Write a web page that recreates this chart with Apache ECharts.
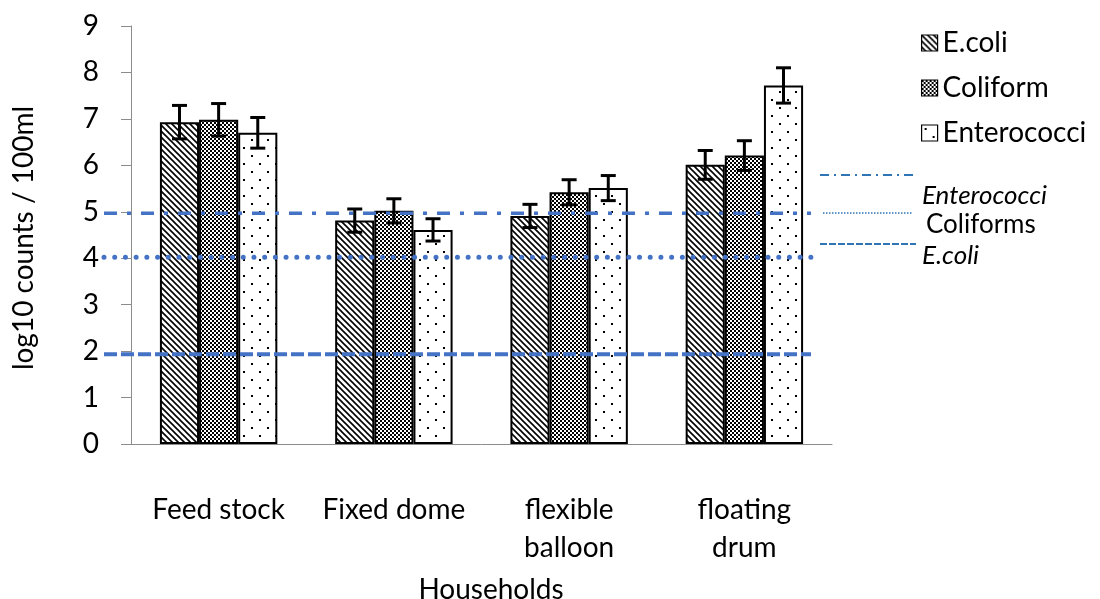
<!DOCTYPE html>
<html><head><meta charset="utf-8">
<script src="https://cdn.jsdelivr.net/npm/echarts@6/dist/echarts.min.js"></script>
<style>html,body{margin:0;padding:0;background:#fff}#c{width:1100px;height:599px}</style>
</head><body><div id="c"></div>
<script>
// ---- data ----
const categories = ['Feed stock', 'Fixed dome', 'flexible\nballoon', 'floating\ndrum'];
const seriesNames = ['E.coli', 'Coliform', 'Enterococci'];
const ecoli = [6.93, 4.81, 4.91, 6.01];
const coliform = [6.98, 5.02, 5.42, 6.21];
const enterococci = [6.70, 4.61, 5.51, 7.72];
const ecoliErr = [0.36, 0.25, 0.25, 0.31];
const coliformErr = [0.35, 0.26, 0.27, 0.32];
const enterococciErr = [0.33, 0.24, 0.27, 0.38];
const refNames = ['Enterococci', 'Coliforms', 'E.coli'];
const refValues = [4.97, 4.02, 1.93];
const yMin = 0, yMax = 9, yStep = 1;
const xTitle = 'Households';
const yTitle = 'log10 counts / 100ml';

// ---- patterns ----
function tile(w, h, draw) {
  const c = document.createElement('canvas'); c.width = w; c.height = h;
  const g = c.getContext('2d'); g.fillStyle = '#fff'; g.fillRect(0, 0, w, h); draw(g);
  return c;
}
const diagPat = tile(6, 6, g => {
  g.strokeStyle = '#000'; g.lineWidth = 1.6; g.beginPath();
  g.moveTo(-2, -2); g.lineTo(8, 8);
  g.moveTo(-2, 4); g.lineTo(2, 8);
  g.moveTo(4, -2); g.lineTo(8, 2);
  g.stroke();
});
const checkPat = tile(4, 4, g => {
  g.fillStyle = '#000'; g.fillRect(0, 0, 2, 2); g.fillRect(2, 2, 2, 2);
});
const dotPat = tile(16, 16, g => {
  g.fillStyle = '#000'; g.fillRect(3, 3, 2, 2); g.fillRect(11, 11, 2, 2);
});
const patterns = [diagPat, checkPat, dotPat];
const values = [ecoli, coliform, enterococci];
const errs = [ecoliErr, coliformErr, enterococciErr];

const FONT = 'Lato';
const barSeries = seriesNames.map((n, i) => ({
  name: n, type: 'bar', data: values[i], barGap: '0%', barCategoryGap: '33%',
  itemStyle: { color: { image: patterns[i], repeat: 'repeat' }, borderColor: '#000', borderWidth: 2 },
  z: 2
}));

const errData = [];
values.forEach((arr, si) => arr.forEach((v, ci) => errData.push([ci, si, v, errs[si][ci]])));

const refStyles = [
  { stroke: '#4472C4', lineWidth: 3.5, lineDash: [13, 10, 4, 10] },
  { stroke: '#4472C4', lineWidth: 5, lineDash: [0.01, 10.7], lineCap: 'round' },
  { stroke: '#4472C4', lineWidth: 4, lineDash: [13, 4] }
];

const chart = echarts.init(document.getElementById('c'), null, { renderer: 'canvas' });
chart.setOption({
  animation: false,
  textStyle: { fontFamily: FONT },
  grid: { left: 131, right: 268, top: 26, bottom: 155 },
  legend: {
    data: seriesNames, orient: 'vertical', left: 916, top: 24, itemGap: 17,
    icon: 'rect', itemWidth: 16, itemHeight: 16,
    itemStyle: { borderWidth: 1.2, borderColor: '#000' },
    textStyle: { fontSize: 28, color: '#000', fontFamily: FONT, padding: [0, 0, 0, 0] }
  },
  xAxis: {
    type: 'category', data: categories,
    axisLine: { lineStyle: { color: '#8c8c8c', width: 1 } },
    axisTick: { length: 14, lineStyle: { color: '#8c8c8c' } },
    axisLabel: { fontSize: 28, color: '#000', lineHeight: 38, margin: 47, fontFamily: FONT, interval: 0 }
  },
  yAxis: {
    type: 'value', min: yMin, max: yMax, interval: yStep,
    axisLine: { show: true, lineStyle: { color: '#8c8c8c', width: 1 } },
    axisTick: { show: true, length: 10, lineStyle: { color: '#8c8c8c' } },
    splitLine: { show: false },
    axisLabel: { fontSize: 28, color: '#000', margin: 32, fontFamily: FONT }
  },
  graphic: [
    { type: 'text', x: 24, y: 238, rotation: Math.PI / 2,
      style: { text: yTitle, fontSize: 28, fontFamily: FONT, fill: '#000', align: 'center', verticalAlign: 'middle' } },
    { type: 'text', x: 491, y: 590,
      style: { text: xTitle, fontSize: 28, fontFamily: FONT, fill: '#000', align: 'center', verticalAlign: 'middle' } },
    { type: 'line', shape: { x1: 820, y1: 175, x2: 916, y2: 175 }, style: { stroke: '#2E75B6', lineWidth: 2, lineDash: [9, 5, 2, 5] } },
    { type: 'line', shape: { x1: 823, y1: 213, x2: 912, y2: 213 }, style: { stroke: '#2E75B6', lineWidth: 1.5, lineDash: [1.5, 1.5] } },
    { type: 'line', shape: { x1: 820, y1: 244, x2: 916, y2: 244 }, style: { stroke: '#2E75B6', lineWidth: 2, lineDash: [7, 2] } },
    { type: 'text', x: 922, y: 196, style: { text: refNames[0], fontSize: 26, fontStyle: 'italic', fontFamily: FONT, fill: '#000', verticalAlign: 'middle' } },
    { type: 'text', x: 926, y: 225, style: { text: refNames[1], fontSize: 26, fontFamily: FONT, fill: '#000', verticalAlign: 'middle' } },
    { type: 'text', x: 922, y: 256, style: { text: refNames[2], fontSize: 26, fontStyle: 'italic', fontFamily: FONT, fill: '#000', verticalAlign: 'middle' } }
  ],
  series: barSeries.concat([
    {
      type: 'custom', name: 'refLines', clip: false, z: 5, silent: true,
      data: refValues.map((v, i) => [0, v, i]),
      encode: { x: 0, y: 1 },
      renderItem: (params, api) => {
        const y = api.coord([0, api.value(1)])[1];
        const s = refStyles[api.value(2)];
        return { type: 'line', shape: { x1: 104, y1: y, x2: 811, y2: y }, style: Object.assign({ fill: null }, s) };
      }
    },
    {
      type: 'custom', name: 'errors', clip: false, z: 6, silent: true,
      data: errData, encode: { x: 0, y: 2 },
      renderItem: (params, api) => {
        const ci = api.value(0), si = api.value(1), v = api.value(2), e = api.value(3);
        const band = api.size([1, 0])[0];
        const bw = band * 0.67 / 3;
        const cx = api.coord([ci, 0])[0] + (si - 1) * bw;
        const yt = api.coord([ci, v + e])[1];
        const yb = api.coord([ci, v - e])[1];
        const cap = 7.5;
        const st = { stroke: '#000', lineWidth: 3 };
        return { type: 'group', children: [
          { type: 'line', shape: { x1: cx, y1: yt, x2: cx, y2: yb }, style: st },
          { type: 'line', shape: { x1: cx - cap, y1: yt, x2: cx + cap, y2: yt }, style: st },
          { type: 'line', shape: { x1: cx - cap, y1: yb, x2: cx + cap, y2: yb }, style: st }
        ] };
      }
    }
  ])
});
</script>
</body></html>
